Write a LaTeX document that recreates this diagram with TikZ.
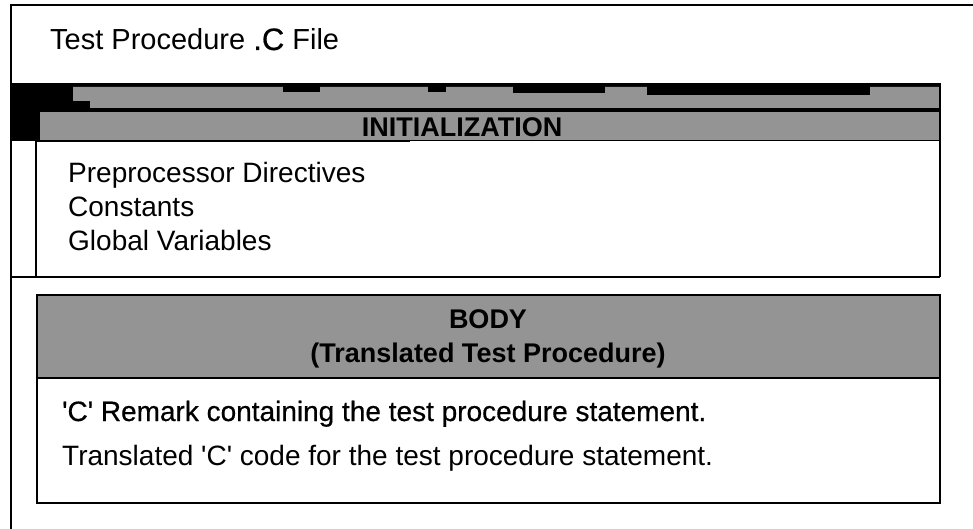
\documentclass[tikz,border=0pt]{standalone}
\usepackage{fontspec}
\setmainfont{Liberation Sans}
\newfontfamily\midfont[FakeBold=0.6]{Liberation Sans}
\newcommand{\sq}{\textquotesingle}
\begin{document}
\begin{tikzpicture}[x=1pt,y=-1pt,
  frame/.style={line width=1.6pt,black},
  boxline/.style={line width=2pt,black},
  shade/.style={fill=black!42},
  txt/.style={inner sep=0pt,anchor=base west,font=\fontsize{28}{34}\selectfont},
  head/.style={inner sep=0pt,anchor=base,font=\bfseries\fontsize{27}{32}\selectfont}]
\useasboundingbox (0,0) rectangle (973,529);

% outer file frame
\draw[frame] (973,5) -- (11,5) -- (11,529);
\node[txt,font=\fontsize{29}{34}\selectfont] (title) at (50,50) {Test Procedure {\midfont\fontsize{31}{34}\selectfont.C} File};

% initialization block: black band with shaded strips
\fill[black] (11,83) rectangle (940,141);
\fill[shade] (73,87) -- (940,87) -- (940,108) -- (90,108) -- (90,101) -- (73,101) -- cycle;
\fill[black] (283,86) rectangle (320,92);
\fill[black] (428,86) rectangle (446,92);
\fill[black] (513,86) rectangle (605,93);
\fill[black] (647,86) rectangle (870,95);
\fill[shade] (40,112) rectangle (940,140);
\draw[line width=1pt] (36,109) -- (807,109) -- (807,111) -- (940,111);
\node[head] (init) at (462,137) {INITIALIZATION};

\draw[boxline] (940,83) -- (940,277);
\draw[boxline] (36,141) -- (36,277);
\draw[boxline] (11,277) -- (940,277);
\draw[boxline] (36,141) -- (410,141);

\node[txt] (pre) at (68,183) {Preprocessor Directives};
\node[txt] (const) at (68,217) {Constants};
\node[txt] (glob) at (68,250) {Global Variables};

% body block
\fill[shade] (37,295) rectangle (940,378);
\draw[boxline] (37,295) rectangle (940,503);
\draw[boxline] (37,378) -- (940,378);
\node[head] (body) at (488,328) {BODY};
\node[head] (bodysub) at (488,362) {(Translated Test Procedure)};

\node[txt,font=\midfont\fontsize{28}{34}\selectfont] (remark) at (62,421) {\sq C\sq{} Remark containing the test procedure statement.};
\node[txt] (code) at (62,465) {Translated \sq C\sq{} code for the test procedure statement.};
\end{tikzpicture}
\end{document}
